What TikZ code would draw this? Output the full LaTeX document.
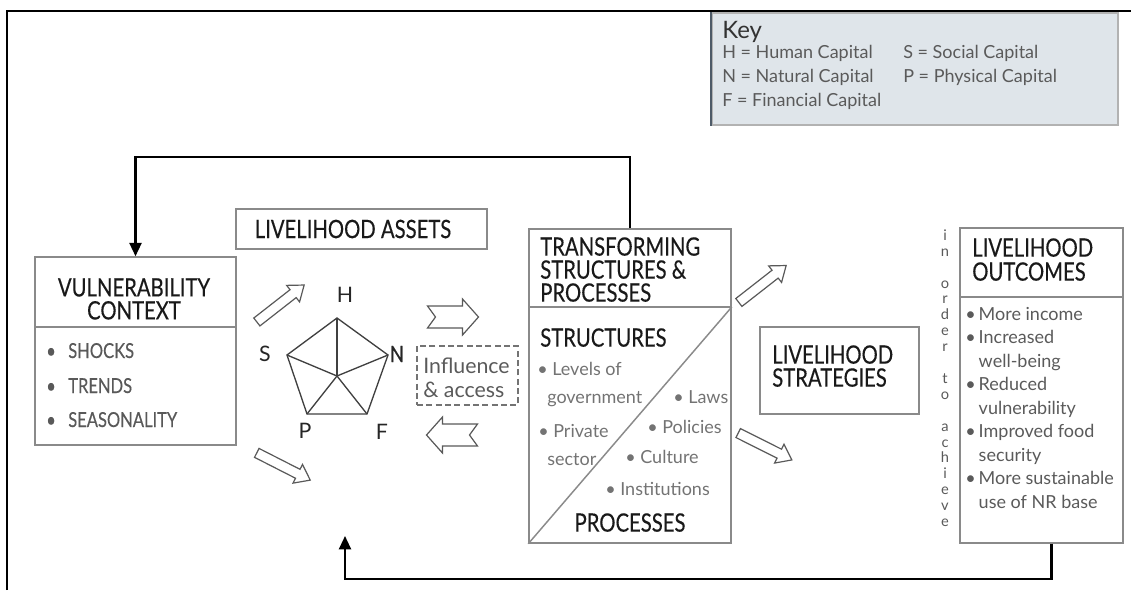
\documentclass[tikz,border=0pt]{standalone}
\usepackage{fontspec}
\setmainfont{Lato}
\newfontfamily\headfont[FakeStretch=0.8,FakeBold=0.3]{Lato}
\usetikzlibrary{positioning, arrows.meta, fit, calc}
\definecolor{keyfill}{HTML}{DFE5EA}
\definecolor{keyedge}{HTML}{4E5B68}
\definecolor{boxgray}{HTML}{8A8A8A}
\definecolor{txtgray}{HTML}{5A5A5A}
\tikzset{notched/.pic={\draw[black!65, line width=0.9pt, fill=white]
    (-25,-11) -- (10,-11) -- (10,-18) -- (26,0) -- (10,18) -- (10,11) -- (-25,11) -- (-17,0) -- cycle;},
  hollow/.pic={\draw[black!65, line width=0.9pt, fill=white]
    (-30,-5) -- (16,-5) -- (16,-10.5) -- (30,0) -- (16,10.5) -- (16,5) -- (-30,5) -- cycle;}}

\begin{document}
\begin{tikzpicture}[x=0.75pt,y=-0.75pt,
every node/.style = {inner sep=0pt},
]

\tikzstyle{box}=[rectangle, draw=boxgray, line width=1.1pt]
\tikzstyle{boxline}=[draw=boxgray, line width=1.1pt]
\tikzstyle{head}=[font=\headfont\fontsize{19}{17.25}\selectfont, text=black!90]
\tikzstyle{vitem}=[font=\headfont\fontsize{15.5}{16}\selectfont, text=black!65, anchor=base west]
\tikzstyle{body}=[font=\fontsize{13.5}{17.6}\selectfont, text=txtgray]
\tikzstyle{keytxt}=[font=\fontsize{13.5}{16}\selectfont, text=txtgray, anchor=base west]
\tikzstyle{vlabel}=[font=\fontsize{16}{16}\selectfont, text=black!85]
\tikzstyle{ach}=[font=\fontsize{11}{11}\selectfont, text=txtgray, text height=0.5em, text depth=0pt]
\tikzstyle{fb}=[line width=1.6pt, -{Triangle[length=10pt,width=9pt]}]
\tikzstyle{pent}=[draw=black!75, line width=1pt]

\useasboundingbox (0,0) rectangle (1131,590);

% frame
\draw[line width=1.5pt] (7,590) -- (7,11) -- (1131,11);

% key
\node[box, draw=gray!60, fill=keyfill, fit={(712,13) (1118,125)}] (key) {};
\draw[keyedge, line width=1.5pt] (key.north west) -- (key.south west);
\node[anchor=base west, font=\fontsize{18}{18}\selectfont, text=black!80] (keyt) at (722,38) {Key};
\node[keytxt] (kH) at (722,58) {H = Human Capital};
\node[keytxt] (kN) at (722,82) {N = Natural Capital};
\node[keytxt] (kF) at (722,106) {F = Financial Capital};
\node[keytxt] (kS) at (903,58) {S = Social Capital};
\node[keytxt] (kP) at (903,82) {P = Physical Capital};

% vulnerability context
\node[box, fit={(35,257) (236,445)}] (vul) {};
\draw[boxline] (vul.west |- 0,327) -- (vul.east |- 0,327);
\node[head, align=center, anchor=north] (vult) at (134,278) {VULNERABILITY\\CONTEXT};
\foreach \y/\txt [count=\i] in {358/SHOCKS, 393/TRENDS, 427/SEASONALITY}{
  \node[vitem] (vb\i) at (46,\y) {\textbullet};
  \node[vitem] (vi\i) at (68,\y) {\txt};
}

% livelihood assets
\node[box, fit={(236,209) (487,249)}] (assets) {};
\node[head] (assetst) at (353,229) {LIVELIHOOD ASSETS};

\coordinate (pH) at (337,318);
\coordinate (pN) at (388,355);
\coordinate (pF) at (367,414);
\coordinate (pP) at (307,414);
\coordinate (pS) at (287,355);
\coordinate (pC) at (337,376);
\draw[pent] (pH) -- (pN) -- (pF) -- (pP) -- (pS) -- cycle;
\foreach \v in {pH,pN,pF,pP,pS}
  \draw[pent] (pC) -- (\v);
\node[vlabel] (lH) at (345,295) {H};
\node[vlabel, font=\headfont\fontsize{17}{17}\selectfont] (lN) at (397,354) {N};
\node[vlabel] (lF) at (382,432) {F};
\node[vlabel] (lP) at (305,431) {P};
\node[vlabel] (lS) at (265,354) {S};

% hollow arrows
\pic[rotate=38] (arVA) at (280.5,303.5) {hollow};
\pic[rotate=-27] (arVB) at (283.5,466.5) {hollow};
\pic[rotate=38] (arTA) at (762.5,284) {hollow};
\pic[rotate=-26.6] (arTB) at (765,446.5) {hollow};
\pic (arIn) at (452.5,317) {notched};
\pic[rotate=180] (arOut) at (452.5,435) {notched};

% influence and access
\node[draw=black!55, dash pattern=on 4.5pt off 2.5pt, line width=1pt, fit={(417,346) (518,405)}] (infl) {};
\node[anchor=north west, align=left, font=\fontsize{16}{18}\selectfont, text=txtgray] (inflt) at (423,358) {Influence\\\& access};

% transforming structures
\node[box, fit={(529,229) (731,543)}] (tsp) {};
\coordinate (tspL) at (tsp.west |- 0,307);
\coordinate (tspR) at (tsp.east |- 0,307);
\draw[boxline] (tspL) -- (tspR);
\draw[boxline] (tsp.south west) -- (tspR);
\node[head, anchor=north west, align=left] (tspt) at (540,237) {TRANSFORMING\\STRUCTURES \&\\PROCESSES};
\node[head, anchor=north west] (struct) at (540,328) {STRUCTURES};
\node[head, anchor=north] (proc) at (630,513) {PROCESSES};
\foreach \x/\y/\txt [count=\i] in {537/375/\textbullet\ Levels of, 547/403/government, 538/437/\textbullet\ Private, 547/465/sector,
    673/403/\textbullet\ Laws, 647/433/\textbullet\ Policies, 625/463/\textbullet\ Culture, 605/495/\textbullet\ Institutions}
  \node[body, anchor=base west, text=black!55] (tb\i) at (\x,\y) {\txt};

% strategies
\node[box, fit={(760,327) (919,414)}] (strat) {};
\node[head, anchor=north west, align=left] (stratt) at (772,345) {LIVELIHOOD\\STRATEGIES};

% in order to achieve
\foreach \ch [count=\i] in {i,n,,o,r,d,e,r,,t,o,,a,c,h,i,e,v,e}
  \node[ach] (ach\i) at (945,{237+(\i-1)*15.9}) {\ch};

% outcomes
\node[box, fit={(960,228) (1123,543)}] (outc) {};
\draw[boxline] (outc.west |- 0,297) -- (outc.east |- 0,297);
\node[head, anchor=north west, align=left, font=\headfont\fontsize{19}{18}\selectfont] (outct) at (972,238) {LIVELIHOOD\\OUTCOMES};
\node[body, anchor=north west, align=left] (outcb) at (965,307) {\textbullet\,More income\\
  \textbullet\,Increased\\ \phantom{\textbullet\,}well-being\\
  \textbullet\,Reduced\\ \phantom{\textbullet\,}vulnerability\\
  \textbullet\,Improved food\\ \phantom{\textbullet\,}security\\
  \textbullet\,More sustainable\\ \phantom{\textbullet\,}use of NR base};

% feedback
\draw[fb] (tsp.north) -- ++(0,-71) -| (vul.north);
\coordinate (fbEnd) at (345,536);
\draw[fb] ([xshift=7.5pt]outc.south) -- ++(0,35) -| (fbEnd);
\end{tikzpicture}
\end{document}
